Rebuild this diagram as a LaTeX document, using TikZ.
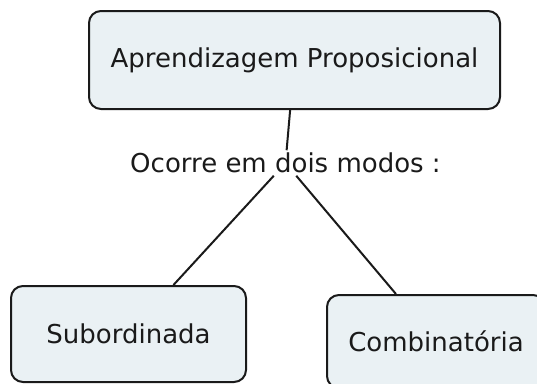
\documentclass[tikz,border=0pt]{standalone}
\usepackage{fontspec}
\setmainfont{DejaVu Sans}
\definecolor{caixa}{RGB}{234,241,244}
\definecolor{traco}{RGB}{26,26,26}
\tikzset{conceito/.style={draw=traco,line width=2pt,fill=caixa,rounded corners=12pt,
    text=traco,font=\fontsize{26}{30}\selectfont},
  ligacao/.style={text=traco,font=\fontsize{26}{30}\selectfont,inner sep=2.5pt}}

\begin{document}
\begin{tikzpicture}[x=1pt,y=-1pt]
    \useasboundingbox (0,0) rectangle (537,383);
    \clip (0,0) rectangle (537,383);
    \node [conceito][minimum width=411pt,minimum height=98pt] (ap) at (294.5,60)
      {Aprendizagem Proposicional};
    \node [ligacao] (modos) at (285.5,163) {Ocorre em dois modos :};
    \node [conceito][minimum width=235pt,minimum height=96pt] (sub) at (128.5,334)
      {Subordinada};
    \node [conceito][minimum width=218pt,minimum height=93pt] (comb) at (436,341.5)
      {Combinatória};
    \draw [traco,line width=2pt] (ap) -- (modos) (modos) -- (sub) (modos) -- (comb);
  \end{tikzpicture}
\end{document}
